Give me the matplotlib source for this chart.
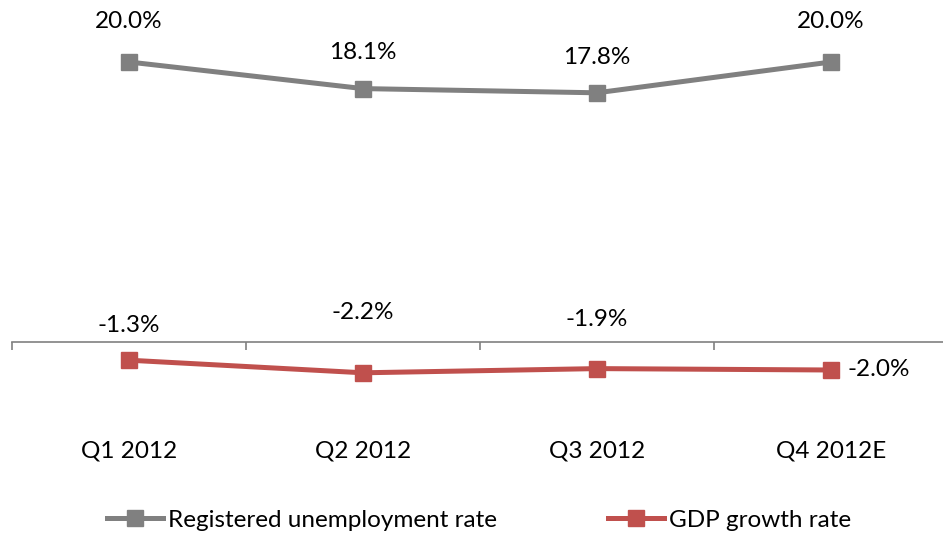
import matplotlib
matplotlib.use('Agg')
import matplotlib.pyplot as plt

plt.rcParams['font.family'] = ['Lato', 'DejaVu Sans']

# data
quarters = ['Q1 2012', 'Q2 2012', 'Q3 2012', 'Q4 2012E']
unemployment = [20.0, 18.1, 17.8, 20.0]
gdp_growth = [-1.3, -2.2, -1.9, -2.0]

# label offsets in pixels (dx, dy) relative to the marker
unemp_offsets = [(0, 40), (0, 36), (0, 35), (0, 40)]
gdp_offsets = [(0, 35), (0, 60), (0, 49), (48, 0)]

GRAY = '#808080'
RED = '#C0504D'
FS = 17.5

fig = plt.figure(figsize=(9.43, 5.34), dpi=100)
ax = fig.add_axes([12 / 943, 0, 936 / 943, 1])

x = range(len(quarters))
ax.plot(x, unemployment, color=GRAY, lw=3.6, marker='s', ms=12,
        label='Registered unemployment rate')
ax.plot(x, gdp_growth, color=RED, lw=3.6, marker='s', ms=12,
        label='GDP growth rate')

px = 0.72  # points per pixel
for xi, v, (dx, dy) in zip(x, unemployment, unemp_offsets):
    ax.annotate(f'{v:.1f}%', (xi, v), xytext=(dx * px, dy * px),
                textcoords='offset points', ha='center', va='center', fontsize=FS)
for xi, v, (dx, dy) in zip(x, gdp_growth, gdp_offsets):
    ax.annotate(f'{v:.1f}%', (xi, v), xytext=(dx * px, dy * px),
                textcoords='offset points', ha='center', va='center', fontsize=FS)

ax.set_xlim(-0.5, 3.5)
ax.set_ylim(-(534 - 342) / 14, 342 / 14)

# axis at zero, y axis hidden
for s in ['top', 'right', 'left']:
    ax.spines[s].set_visible(False)
ax.spines['bottom'].set_position(('data', 0))
ax.spines['bottom'].set_color(GRAY)
ax.spines['bottom'].set_linewidth(1.2)
ax.set_yticks([])

ax.set_xticks([-0.5, 0.5, 1.5, 2.5, 3.5])
ax.set_xticklabels([])
ax.set_xticks(list(x), minor=True)
ax.set_xticklabels(quarters, minor=True, fontsize=FS)
ax.tick_params(axis='x', which='major', length=6, width=1.2, color=GRAY, direction='out')
ax.tick_params(axis='x', which='minor', length=0, pad=71)

fig.legend(loc='lower center', ncol=2, frameon=False, fontsize=FS,
           bbox_to_anchor=(0.508, -0.035), handlelength=2.3, handletextpad=0.2,
           columnspacing=4.6)

fig.savefig('out.png', dpi=100)
